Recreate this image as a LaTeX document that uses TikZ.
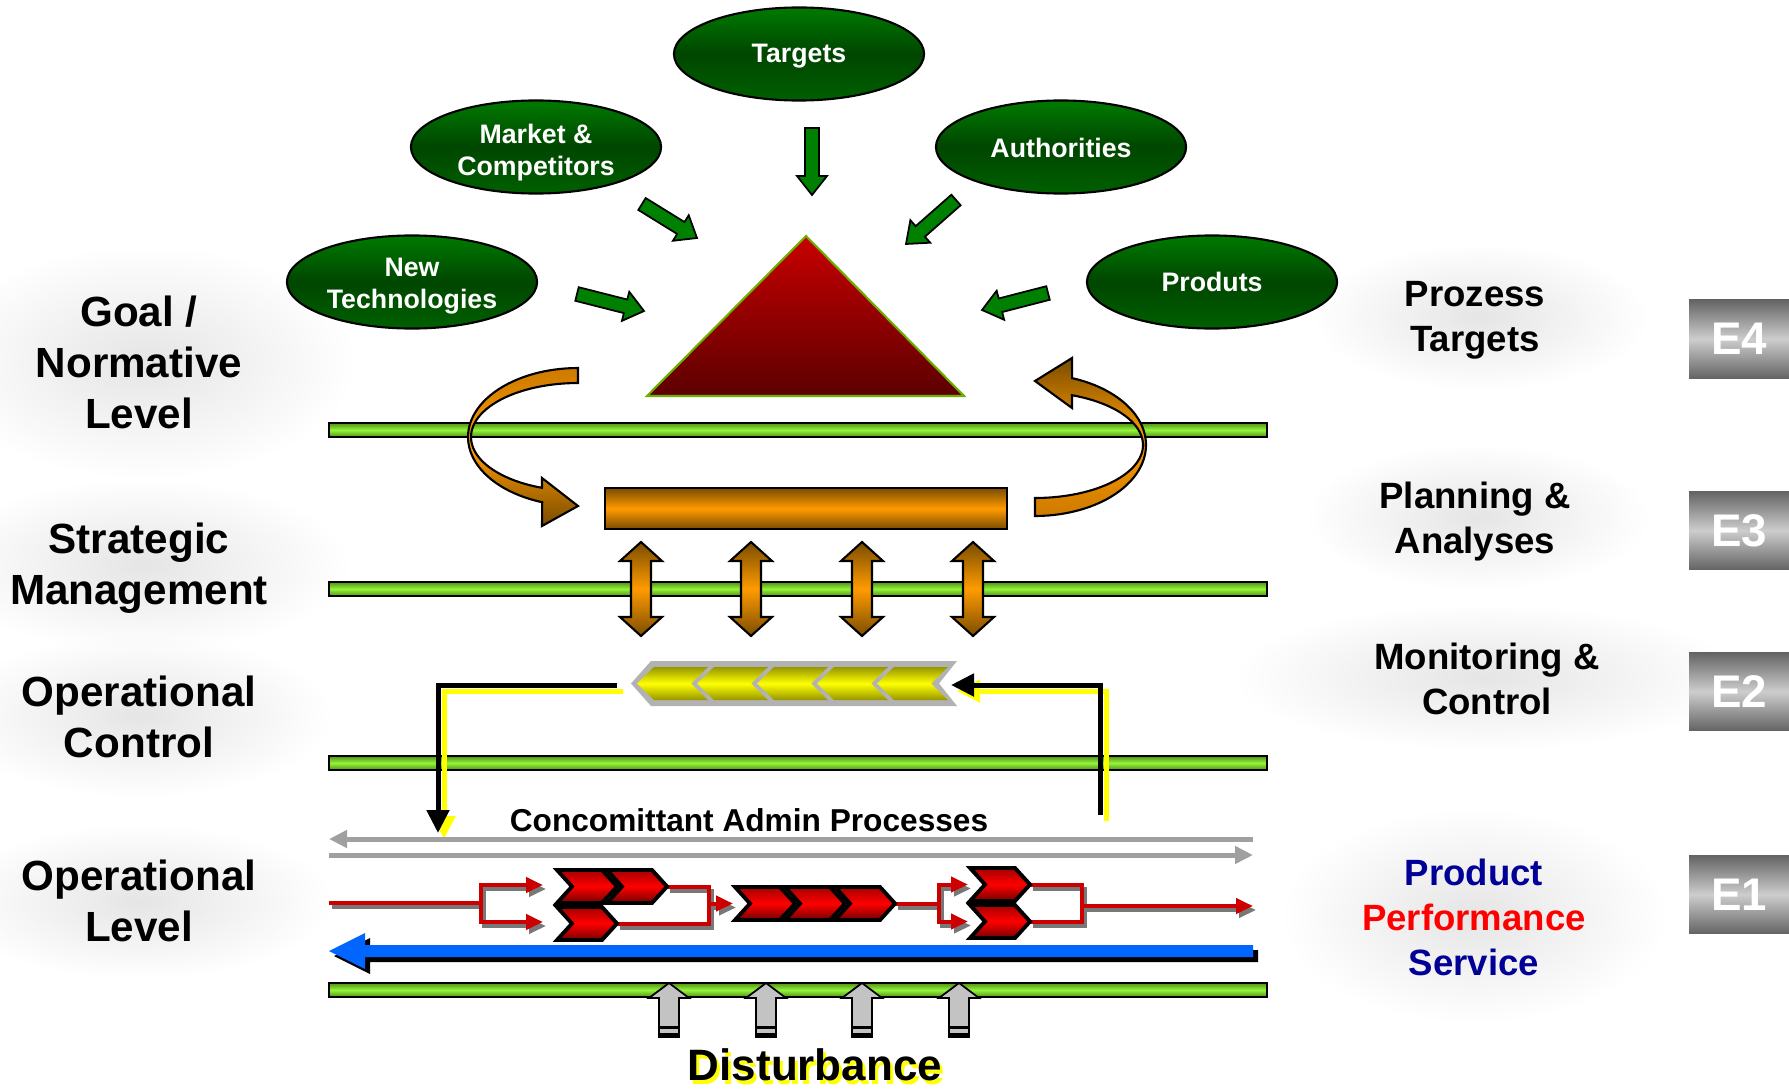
\documentclass[tikz,border=0pt]{standalone}
\usepackage{fontspec}
\setmainfont{Liberation Sans}
\usetikzlibrary{calc,arrows.meta,shapes.geometric,fadings}

\tikzfading[name=halofade, inner color=transparent!0, outer color=transparent!100]

\definecolor{barD}{RGB}{80,146,22}
\definecolor{barL}{RGB}{148,244,58}
\definecolor{ellTop}{RGB}{0,122,0}
\definecolor{ellMid}{RGB}{0,70,0}
\definecolor{ellBot}{RGB}{0,96,0}
\definecolor{arrGreen}{RGB}{0,128,0}
\definecolor{triTop}{RGB}{200,0,0}
\definecolor{triBot}{RGB}{92,0,0}
\definecolor{triEdge}{RGB}{110,175,0}
\definecolor{orD}{RGB}{122,76,0}
\definecolor{orL}{RGB}{255,155,0}
\definecolor{orM}{RGB}{205,122,0}
\definecolor{yelD}{RGB}{150,150,0}
\definecolor{yelL}{RGB}{255,255,0}
\definecolor{chevGray}{RGB}{178,178,178}
\definecolor{chevTop}{RGB}{165,0,0}
\definecolor{chevRed}{RGB}{255,0,0}
\definecolor{chevBot}{RGB}{115,0,0}
\definecolor{flowRed}{RGB}{204,0,0}
\definecolor{flowShadow}{RGB}{120,120,120}
\definecolor{admGray}{RGB}{160,160,160}
\definecolor{blueFlow}{RGB}{0,102,255}
\definecolor{distGray}{RGB}{195,195,195}
\definecolor{boxD}{RGB}{100,100,100}
\definecolor{boxL}{RGB}{205,205,205}
\definecolor{prodBlue}{RGB}{0,0,150}
\definecolor{perfRed}{RGB}{255,0,0}

% block arrow from coordinate #2 to coordinate #3:
% #4 shaft half-width, #5 head half-width, #6 head length
\newcommand{\blockarr}[6][]{%
  \coordinate (ba-h) at ($(#3)!#6!(#2)$);
  \path[#1] ($(#2)!#4!90:(#3)$) -- ($(ba-h)!#4!-90:(#2)$) -- ($(ba-h)!#5!-90:(#2)$)
    -- (#3) -- ($(ba-h)!#5!90:(#2)$) -- ($(ba-h)!#4!90:(#2)$) -- ($(#2)!#4!-90:(#3)$) -- cycle;
}

% red process flow of the operational level
\newcommand{\flownet}{%
  \draw[fl] (329,903) -- (481,903);
  \draw[fl,fla] (481,903) |- (543,885);
  \draw[fl,fla] (481,903) |- (543,922);
  \draw[fl] (667,886.5) -| (709,923.5) -- (617,923.5);
  \draw[fl,fla] (709,903.5) -- (733,903.5);
  \draw[fl] (895,903.5) -- (939,903.5);
  \draw[fl,fla] (939,903.5) |- (968,884.5);
  \draw[fl,fla] (939,903.5) |- (968,921.5);
  \draw[fl] (1030,884.5) -| (1082,921.5) -- (1030,921.5);
  \draw[fl,fla] (1082,906) -- (1253,906);
}

\begin{document}
\begin{tikzpicture}[x=0.01cm, y=-0.01cm,
  levelbar/.style={draw=black, line width=0.5pt, top color=barD, bottom color=barD, middle color=barL},
  ellnode/.style={ellipse, draw=black, line width=0.6pt, top color=ellTop, bottom color=ellBot, middle color=ellMid,
    minimum width=2.5cm, minimum height=0.93cm, inner sep=0pt},
  elltext/.style={text=white, align=center, inner sep=0pt, font=\fontsize{7.6}{9.1}\selectfont\bfseries},
  greenarr/.style={draw=black, line width=0.5pt, fill=arrGreen},
  curved/.style={draw=black, line width=0.6pt},
  dblarr/.style={draw=black, line width=0.6pt, top color=orD, bottom color=orD, middle color=orL},
  yelchev/.style={top color=yelD, bottom color=yelD, middle color=yelL},
  redchev/.style={draw=black, line width=1.1pt, line join=miter, top color=chevTop, bottom color=chevBot, middle color=chevRed},
  distarr/.style={draw=black, line width=0.5pt, fill=distGray},
  fb/.style={line width=0.05cm, -{Triangle[length=0.23cm,width=0.22cm]}},
  adm/.style={draw=admGray, line width=0.05cm, -{Triangle[length=0.18cm,width=0.17cm]}},
  lvl/.style={align=center, inner sep=0pt, font=\fontsize{12}{14.5}\selectfont\bfseries},
  rlvl/.style={align=center, inner sep=0pt, font=\fontsize{10.4}{12.8}\selectfont\bfseries},
  glow/.style={fill=black, fill opacity=0.1, path fading=halofade},
  ebox/.style={minimum width=1cm, minimum height=0.78cm, inner sep=0pt, top color=boxD, bottom color=boxD,
    middle color=boxL, text=white, font=\fontsize{13}{15}\selectfont\bfseries},
  dist/.style={anchor=base, inner sep=0pt, text depth=0pt, font=\fontsize{12.5}{14}\selectfont\bfseries}
]
\useasboundingbox (0,0) rectangle (1789,1088);

% soft halos behind the level labels
\fill[glow] (-65,245) rectangle (355,479);
\fill[glow] (-63,479) rectangle (349,651);
\fill[glow] (-53,635) rectangle (332,797);
\fill[glow] (-53,824) rectangle (332,979);
\fill[glow] (1313,244) rectangle (1648,390);
\fill[glow] (1306,444) rectangle (1649,590);
\fill[glow] (1234,604) rectangle (1738,750);
\fill[glow] (1282,808) rectangle (1667,1023);

% level separators
\foreach \y in {423,582,756,983}
  \path[levelbar] (329,\y) rectangle (1267,{\y+14});

% influences
\node[ellnode] (targets) at (799,54) {};
\node[ellnode] (market) at (536,147) {};
\node[ellnode] (auth) at (1061,147) {};
\node[ellnode] (newtech) at (412,282) {};
\node[ellnode] (produts) at (1212,282) {};
\node[elltext] (targets-t) at (799,56) {Targets};
\node[elltext] (market-t) at (536,153) {Market \&\\Competitors};
\node[elltext] (auth-t) at (1061,148) {Authorities};
\node[elltext] (newtech-t) at (412,286) {New\\Technologies};
\node[elltext] (produts-t) at (1212,282) {Produts};

\coordinate (ta1) at (812,128);  \coordinate (ta2) at (812,195);
\coordinate (ma1) at (642,204);  \coordinate (ma2) at (697,238);
\coordinate (aa1) at (956,200);  \coordinate (aa2) at (906,244);
\coordinate (na1) at (577,294);  \coordinate (na2) at (644,311);
\coordinate (pa1) at (1048,293); \coordinate (pa2) at (982,310);
\blockarr[greenarr]{ta1}{ta2}{0.07cm}{0.15cm}{0.19cm}
\blockarr[greenarr]{ma1}{ma2}{0.07cm}{0.15cm}{0.19cm}
\blockarr[greenarr]{aa1}{aa2}{0.07cm}{0.15cm}{0.19cm}
\blockarr[greenarr]{na1}{na2}{0.07cm}{0.15cm}{0.19cm}
\blockarr[greenarr]{pa1}{pa2}{0.07cm}{0.15cm}{0.19cm}

% goal pyramid
\path[draw=triEdge, line width=0.6pt, top color=triTop, bottom color=triBot]
  (806,236) -- (964,396) -- (647,396) -- cycle;

% twisted loop arrows between goal and strategy
\path[curved, top color=orM, bottom color=orD, middle color=orL]
  plot[domain=90:251, samples=50] ({578+110*cos(\x)}, {437-69*sin(\x)})
  -- (542,526) -- (578,506) -- (542,478)
  -- plot[domain=250.3:90, samples=50] ({578+107*cos(\x)}, {437-54*sin(\x)}) -- cycle;
\path[curved, top color=orD, bottom color=orM, middle color=orL]
  plot[domain=-90:70.5, samples=50] ({1035+111*cos(\x)}, {445-71*sin(\x)})
  -- (1072,358) -- (1035,381) -- (1072,408)
  -- plot[domain=70:-90, samples=50] ({1035+108*cos(\x)}, {445-53*sin(\x)}) -- cycle;

% strategy bar
\path[draw=black, line width=0.6pt, top color=orD, bottom color=orD, middle color=orL]
  (605,488) rectangle (1007,529);

% two-way exchanges
\foreach \x in {641,751,862,973}
  \path[dblarr] (\x,542) -- ({\x+21},561) -- ({\x+10},561) -- ({\x+10},617) -- ({\x+21},617)
    -- (\x,636) -- ({\x-21},617) -- ({\x-10},617) -- ({\x-10},561) -- ({\x-21},561) -- cycle;

% control chevrons
\path[fill=chevGray] (631,683.5) -- (651,661) -- (957,661) -- (939,683.5) -- (957,706) -- (651,706) -- cycle;
\foreach \x in {637,697,757,817,877}
  \path[yelchev] (\x,683.5) -- ({\x+17},667) -- ({\x+71},667) -- ({\x+54},683.5)
    -- ({\x+71},700) -- ({\x+17},700) -- cycle;

% control loop
\draw[fb, yelL] (623,691) -| (444,839);
\draw[fb, yelL] (1106,821) |- (957,691);
\draw[fb, black] (617,685) -| (438,833);
\draw[fb, black] (1100,815) |- (951,685);

% admin processes
\node[anchor=base, inner sep=0pt, font=\fontsize{9}{11}\selectfont\bfseries] (admtext) at (749,831)
  {Concomittant Admin Processes};
\draw[adm] (1253,839) -- (329,839);
\draw[adm] (329,855) -- (1253,855);

% operational process flow
\begin{scope}[shift={(3,4)}, fl/.style={draw=flowShadow, line width=0.04cm},
  fla/.style={-{Triangle[length=0.17cm,width=0.15cm]}}]
  \flownet
\end{scope}
\begin{scope}[fl/.style={draw=flowRed, line width=0.04cm},
  fla/.style={-{Triangle[length=0.17cm,width=0.15cm]}}]
  \flownet
\end{scope}
\foreach \x/\y in {557/870, 607/870, 557/907, 735/887, 785/887, 835/887, 970/868, 970/905}
  \path[redchev] (\x,\y) -- ({\x+45},\y) -- ({\x+60},{\y+16.5}) -- ({\x+45},{\y+33})
    -- (\x,{\y+33}) -- ({\x+15},{\y+16.5}) -- cycle;

% return flow
\fill[black] (1258,950) -- (370,950) -- (370,938) -- (334,956) -- (370,974) -- (370,962) -- (1258,962) -- cycle;
\fill[blueFlow] (1253,945) -- (365,945) -- (365,933) -- (329,951) -- (365,969) -- (365,957) -- (1253,957) -- cycle;

% disturbances
\foreach \x in {669,766,862,959} {
  \path[distarr] (\x,983) -- ({\x+20},998) -- ({\x+10},998) -- ({\x+10},1037) -- ({\x-10},1037)
    -- ({\x-10},998) -- ({\x-20},998) -- cycle;
  \fill[black] ({\x-10},1026) rectangle ({\x+10},1029);
  \fill[black] ({\x-10},1033) rectangle ({\x+10},1037);
}
\node[dist, text=yelL] (distshadow) at (818,1084) {Disturbance};
\node[dist] (disttext) at (815,1080) {Disturbance};

% level labels
\node[lvl] (goal) at (139,362) {Goal /\\Normative\\Level};
\node[lvl] (strat) at (139,568.5) {Strategic\\Management};
\node[lvl] (opctl) at (139,717) {Operational\\Control};
\node[lvl] (oplvl) at (139,901) {Operational\\Level};

\node[rlvl] (ptarg) at (1475,320.5) {Prozess\\Targets};
\node[rlvl] (plan) at (1475,521.5) {Planning \&\\Analyses};
\node[rlvl] (monit) at (1487,679) {Monitoring \&\\Control};
\node[rlvl] (pps) at (1474,917) {\textcolor{prodBlue}{Product}\\\textcolor{perfRed}{Performance}\\\textcolor{prodBlue}{Service}};

\node[ebox] (e4) at (1739,339) {E4};
\node[ebox] (e3) at (1739,530.5) {E3};
\node[ebox] (e2) at (1739,691.5) {E2};
\node[ebox] (e1) at (1739,894.5) {E1};
\end{tikzpicture}
\end{document}
